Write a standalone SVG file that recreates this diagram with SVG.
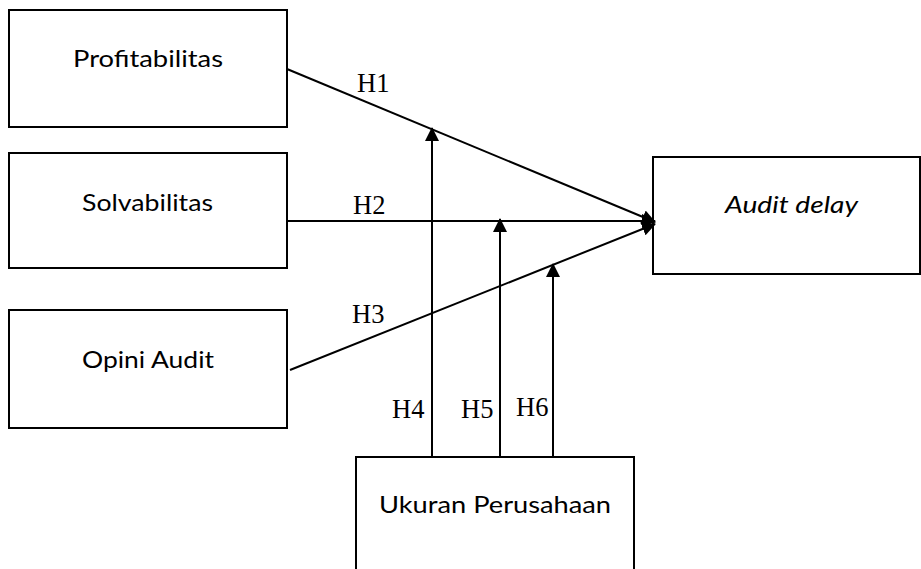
<svg xmlns="http://www.w3.org/2000/svg" width="921" height="569" viewBox="0 0 921 569">
<style>
.box{fill:#fff;stroke:#000;stroke-width:2}
.lbl{font-family:Lato,"Open Sans",sans-serif;font-size:24px;fill:#000}
.h{font-family:"Liberation Serif","Times New Roman",serif;font-size:26.5px;fill:#000}
.ln{stroke:#000;stroke-width:2;fill:none}
</style>
<defs>
<marker id="ah" viewBox="0 0 14 14" refX="13" refY="7" markerWidth="14" markerHeight="14" markerUnits="userSpaceOnUse" orient="auto">
<path d="M0,0 L14,7 L0,14 Z" fill="#000"/>
</marker>
</defs>
<rect width="921" height="569" fill="#fff"/>
<g id="node-profitabilitas">
<rect class="box" x="9" y="10" width="278" height="117"/>
<text class="lbl" x="73" y="67" textLength="150" lengthAdjust="spacingAndGlyphs">Profitabilitas</text>
</g>
<g id="node-solvabilitas">
<rect class="box" x="9" y="153" width="278" height="115"/>
<text class="lbl" x="82" y="211" textLength="131" lengthAdjust="spacingAndGlyphs">Solvabilitas</text>
</g>
<g id="node-opini">
<rect class="box" x="9" y="310" width="278" height="118"/>
<text class="lbl" x="82" y="368" textLength="132" lengthAdjust="spacingAndGlyphs">Opini Audit</text>
</g>
<g id="node-audit-delay">
<rect class="box" x="653" y="157" width="267" height="117"/>
<text class="lbl" x="725" y="213" font-style="italic" textLength="133" lengthAdjust="spacingAndGlyphs">Audit delay</text>
</g>
<g id="node-ukuran">
<rect class="box" x="356" y="457" width="278" height="120"/>
<text class="lbl" x="379" y="513" textLength="232" lengthAdjust="spacingAndGlyphs">Ukuran Perusahaan</text>
</g>
<g id="connectors">
<line class="ln" x1="287" y1="69" x2="655" y2="222" marker-end="url(#ah)"/>
<line class="ln" x1="287" y1="221" x2="655" y2="221" marker-end="url(#ah)"/>
<line class="ln" x1="290" y1="370" x2="655" y2="224" marker-end="url(#ah)"/>
<line class="ln" x1="432" y1="457" x2="432" y2="128" marker-end="url(#ah)"/>
<line class="ln" x1="500" y1="457" x2="500" y2="219" marker-end="url(#ah)"/>
<line class="ln" x1="553" y1="457" x2="553" y2="264" marker-end="url(#ah)"/>
<text class="h" x="357" y="92">H1</text>
<text class="h" x="353" y="214">H2</text>
<text class="h" x="352" y="323">H3</text>
<text class="h" x="392" y="418">H4</text>
<text class="h" x="461" y="418">H5</text>
<text class="h" x="516" y="416">H6</text>
</g>
</svg>
